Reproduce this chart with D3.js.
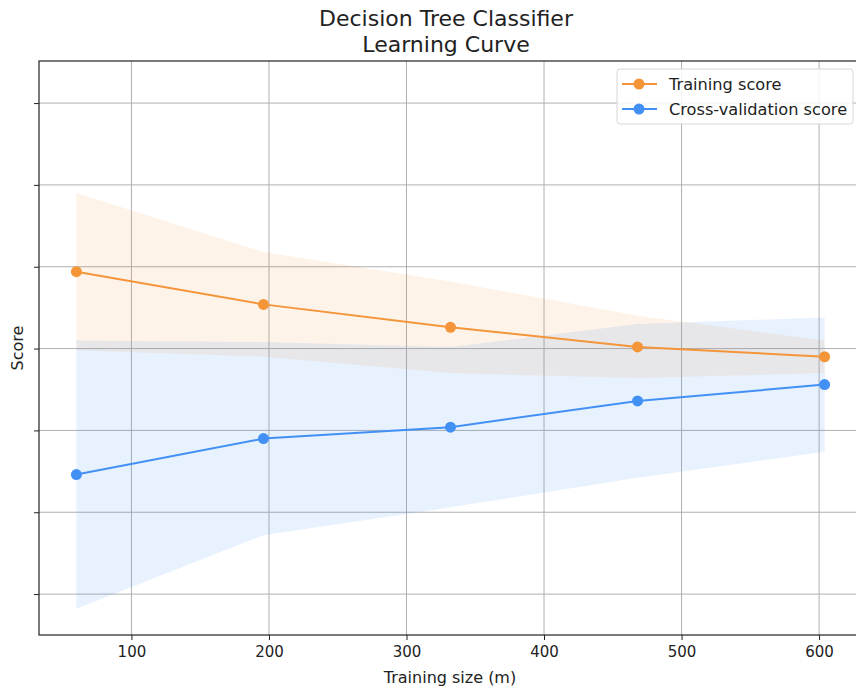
<!DOCTYPE html>
<meta charset="utf-8">
<script src="https://d3js.org/d3.v7.min.js"></script>
<style>
  body { margin: 0; background: #fff; }
  text { font-family: "DejaVu Sans", sans-serif; fill: #222; }
</style>
<div id="chart"></div>
<script>
// data
const trainSizes = [60, 196, 332, 468, 604];
const trainMean  = [0.897, 0.877, 0.863, 0.851, 0.845];
const trainStd   = [0.048, 0.032, 0.028, 0.019, 0.010];
const cvMean     = [0.773, 0.795, 0.802, 0.818, 0.828];
const cvStd      = [0.082, 0.059, 0.049, 0.047, 0.041];
const xTicks = [100, 200, 300, 400, 500, 600];
const yTicks = [0.70, 0.75, 0.80, 0.85, 0.90, 0.95, 1.00];

const W = 856, H = 693;
const margin = {top: 61, left: 39, right: -6, bottom: 58};
const width = W - margin.left - margin.right,
      height = H - margin.top - margin.bottom;

const orange = "#f5953a", blue = "#4390f5";

const svg = d3.select("#chart").append("svg")
  .attr("width", W).attr("height", H);

const g = svg.append("g")
  .attr("transform", `translate(${margin.left},${margin.top})`);

const x = d3.scaleLinear().domain([32.8, 631.2]).range([0, width]);
const y = d3.scaleLinear().domain([0.675, 1.0257]).range([height, 0]);

// grid
g.append("g").selectAll("line").data(xTicks).join("line")
  .attr("x1", d => x(d)).attr("x2", d => x(d))
  .attr("y1", 0).attr("y2", height)
  .attr("stroke", "#b0b0b0").attr("stroke-width", 1);
g.append("g").selectAll("line").data(yTicks).join("line")
  .attr("x1", 0).attr("x2", width)
  .attr("y1", d => y(d)).attr("y2", d => y(d))
  .attr("stroke", "#b0b0b0").attr("stroke-width", 1);

// bands
const band = (mean, std) => d3.area()
  .x((d, i) => x(trainSizes[i]))
  .y0((d, i) => y(mean[i] - std[i]))
  .y1((d, i) => y(mean[i] + std[i]));

g.append("path").datum(trainSizes)
  .attr("d", band(trainMean, trainStd))
  .attr("fill", orange).attr("fill-opacity", 0.11);
g.append("path").datum(trainSizes)
  .attr("d", band(cvMean, cvStd))
  .attr("fill", blue).attr("fill-opacity", 0.12);

// lines + markers
const series = [
  {name: "Training score", mean: trainMean, color: orange},
  {name: "Cross-validation score", mean: cvMean, color: blue}
];
const line = mean => d3.line()
  .x((d, i) => x(trainSizes[i]))
  .y((d, i) => y(mean[i]));

series.forEach(s => {
  g.append("path").datum(trainSizes)
    .attr("d", line(s.mean))
    .attr("fill", "none").attr("stroke", s.color).attr("stroke-width", 2);
  g.append("g").selectAll("circle").data(s.mean).join("circle")
    .attr("cx", (d, i) => x(trainSizes[i]))
    .attr("cy", d => y(d))
    .attr("r", 5.5)
    .attr("fill", s.color);
});

// axes
const xAxis = g.append("g")
  .attr("transform", `translate(0,${height})`)
  .call(d3.axisBottom(x).tickValues(xTicks).tickSize(5).tickPadding(6));
xAxis.select(".domain").remove();
xAxis.selectAll("text").style("font-size", "15px").attr("fill", "#222");
xAxis.selectAll("line").attr("stroke", "#222");

const yAxis = g.append("g")
  .call(d3.axisLeft(y).tickValues(yTicks).tickSize(5).tickFormat(""));
yAxis.select(".domain").remove();
yAxis.selectAll("line").attr("stroke", "#222");

// spines (right one falls outside the picture)
g.append("rect")
  .attr("x", 0).attr("y", 0).attr("width", width).attr("height", height)
  .attr("fill", "none").attr("stroke", "#222").attr("stroke-width", 1.2);

// labels
svg.append("text")
  .attr("x", 446).attr("y", 26)
  .attr("text-anchor", "middle").style("font-size", "22px")
  .text("Decision Tree Classifier");
svg.append("text")
  .attr("x", 446).attr("y", 52)
  .attr("text-anchor", "middle").style("font-size", "22px")
  .text("Learning Curve");

svg.append("text")
  .attr("x", 450).attr("y", 683)
  .attr("text-anchor", "middle").style("font-size", "16px")
  .text("Training size (m)");

svg.append("text")
  .attr("transform", "translate(23,348) rotate(-90)")
  .attr("text-anchor", "middle").style("font-size", "16px")
  .text("Score");

// legend
const lg = svg.append("g").attr("transform", "translate(617,69)");
lg.append("rect")
  .attr("width", 236).attr("height", 55).attr("rx", 3)
  .attr("fill", "#fff").attr("fill-opacity", 0.85)
  .attr("stroke", "#d6d6d6");
series.forEach((s, i) => {
  const row = lg.append("g").attr("transform", `translate(0,${15 + i * 25})`);
  row.append("line")
    .attr("x1", 5).attr("x2", 40)
    .attr("stroke", s.color).attr("stroke-width", 2);
  row.append("circle").attr("cx", 22).attr("r", 5.5).attr("fill", s.color);
  row.append("text")
    .attr("x", 52).attr("dy", "0.35em")
    .style("font-size", "16.2px")
    .text(s.name);
});
</script>
